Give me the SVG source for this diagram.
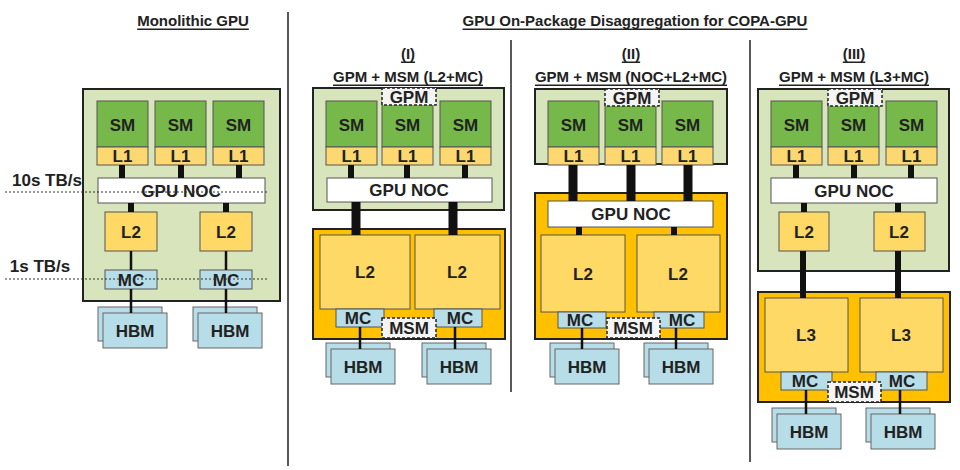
<svg xmlns="http://www.w3.org/2000/svg" width="960" height="470" viewBox="0 0 960 470">
<style>
text{font-family:"Liberation Sans",Arial,sans-serif;font-weight:bold;fill:#222;text-anchor:middle;dominant-baseline:central}
.t{font-size:17px}
.s{font-size:15px}
.h{font-size:15px;text-decoration:underline}
.gpm{fill:#d8e4bc;stroke:#222;stroke-width:2}
.msm{fill:#ffc000;stroke:#222;stroke-width:2}
.sm{fill:#76b94a;stroke:#555;stroke-width:1}
.l1{fill:#fdd870;stroke:#555;stroke-width:1}
.l2{fill:#ffd966;stroke:#555;stroke-width:1}
.noc{fill:#fff;stroke:#555;stroke-width:1}
.mc{fill:#b7dde8;stroke:#555;stroke-width:1}
.lab{fill:#f4f4f4;stroke:#222;stroke-width:1.5;stroke-dasharray:3 2}
.thin{stroke:#111;stroke-width:2.5}
.mid{stroke:#111;stroke-width:6}
.thick{stroke:#111;stroke-width:9}
.dot{stroke:#333;stroke-width:1;stroke-dasharray:2 2}
.div{stroke:#222;stroke-width:1.5}
</style>
<defs>
<g id="hbm"><rect x="0" y="0" width="64" height="34" fill="#b7dde8" stroke="#666"/><rect x="5" y="6" width="64" height="35" fill="#b7dde8" stroke="#666"/><text x="37" y="24" class="t">HBM</text></g>
<g id="sm3"><rect class="sm" x="0" y="0" width="51" height="46"/><rect class="l1" x="0" y="46" width="51" height="18"/><text class="t" x="25.5" y="24">SM</text><text class="t" x="25.5" y="55">L1</text></g>
</defs>
<rect width="960" height="470" fill="#fff"/>
<text class="h" x="193" y="20">Monolithic GPU</text>
<text class="h" x="635" y="20">GPU On-Package Disaggregation for COPA-GPU</text>
<line class="div" x1="288" y1="12" x2="288" y2="466"/>
<line class="div" x1="511" y1="40" x2="511" y2="392"/>
<line class="div" x1="750" y1="40" x2="750" y2="462"/>

<g id="monolithic">
<rect class="gpm" x="83" y="89" width="197" height="212"/>
<use href="#sm3" x="97" y="101"/><use href="#sm3" x="155" y="101"/><use href="#sm3" x="213" y="101"/>
<rect class="noc" x="98" y="178" width="167" height="25"/><text class="t" x="181" y="191">GPU NOC</text>
<rect class="l2" x="105" y="212" width="52" height="39"/><text class="t" x="131" y="232">L2</text>
<rect class="l2" x="200" y="212" width="52" height="39"/><text class="t" x="226" y="232">L2</text>
<rect class="mc" x="105" y="270" width="52" height="19"/><text class="t" x="131" y="280">MC</text>
<rect class="mc" x="200" y="270" width="52" height="19"/><text class="t" x="226" y="280">MC</text>
<use href="#hbm" x="98" y="307"/><use href="#hbm" x="193" y="307"/>
<text class="t" x="47" y="180">10s TB/s</text><line class="dot" x1="5" y1="192" x2="268" y2="192"/>
<text class="t" x="40" y="266">1s TB/s</text><line class="dot" x1="5" y1="279" x2="268" y2="279"/>
</g>

<g id="panel1">
<text class="s" x="408" y="53" style="text-decoration:underline">(I)</text>
<text class="s" x="408" y="76" style="text-decoration:underline">GPM + MSM (L2+MC)</text>
<rect class="gpm" x="313" y="88" width="191" height="122"/>
<use href="#sm3" x="326" y="101"/><use href="#sm3" x="382" y="101"/><use href="#sm3" x="440" y="101"/>
<rect class="lab" x="382" y="88" width="54" height="17"/><text class="t" x="409" y="97">GPM</text>
<rect class="noc" x="327" y="178" width="165" height="24"/><text class="t" x="409" y="190">GPU NOC</text>
<rect class="msm" x="313" y="229" width="192" height="110"/>
<rect class="l2" x="320" y="235" width="90" height="74"/><text class="t" x="365" y="272">L2</text>
<rect class="l2" x="415" y="235" width="85" height="74"/><text class="t" x="457" y="272">L2</text>
<rect class="mc" x="336" y="309" width="48" height="18"/><text class="t" x="358" y="318">MC</text>
<rect class="mc" x="434" y="309" width="48" height="18"/><text class="t" x="460" y="318">MC</text>
<rect class="lab" x="382" y="318" width="54" height="20"/><text class="t" x="409" y="328">MSM</text>
<use href="#hbm" x="326" y="343"/><use href="#hbm" x="422" y="343"/>
</g>

<g id="panel2">
<text class="s" x="631" y="53" style="text-decoration:underline">(II)</text>
<text class="s" x="631" y="76" style="text-decoration:underline">GPM + MSM (NOC+L2+MC)</text>
<rect class="gpm" x="535" y="89" width="192" height="75"/>
<use href="#sm3" x="548" y="101"/><use href="#sm3" x="605" y="101"/><use href="#sm3" x="662" y="101"/>
<rect class="lab" x="605" y="89" width="54" height="17"/><text class="t" x="632" y="98">GPM</text>
<rect class="msm" x="535" y="193" width="192" height="146"/>
<rect class="noc" x="548" y="201" width="165" height="26"/><text class="t" x="631" y="214">GPU NOC</text>
<rect class="l2" x="541" y="235" width="84" height="77"/><text class="t" x="583" y="274">L2</text>
<rect class="l2" x="637" y="235" width="83" height="77"/><text class="t" x="678" y="274">L2</text>
<rect class="mc" x="558" y="312" width="48" height="16"/><text class="t" x="580" y="320">MC</text>
<rect class="mc" x="654" y="312" width="50" height="16"/><text class="t" x="682" y="320">MC</text>
<rect class="lab" x="607" y="318" width="53" height="20"/><text class="t" x="633" y="328">MSM</text>
<use href="#hbm" x="550" y="343"/><use href="#hbm" x="644" y="343"/>
</g>

<g id="panel3">
<text class="s" x="854" y="53" style="text-decoration:underline">(III)</text>
<text class="s" x="854" y="76" style="text-decoration:underline">GPM + MSM (L3+MC)</text>
<rect class="gpm" x="758" y="89" width="191" height="182"/>
<use href="#sm3" x="771" y="101"/><use href="#sm3" x="828" y="101"/><use href="#sm3" x="886" y="101"/>
<rect class="lab" x="828" y="89" width="54" height="17"/><text class="t" x="855" y="98">GPM</text>
<rect class="noc" x="771" y="178" width="166" height="25"/><text class="t" x="854" y="191">GPU NOC</text>
<rect class="l2" x="779" y="212" width="50" height="39"/><text class="t" x="804" y="232">L2</text>
<rect class="l2" x="874" y="212" width="51" height="39"/><text class="t" x="899" y="232">L2</text>
<rect class="msm" x="758" y="292" width="192" height="110"/>
<rect class="l2" x="765" y="298" width="83" height="74"/><text class="t" x="806" y="335">L3</text>
<rect class="l2" x="860" y="298" width="83" height="74"/><text class="t" x="901" y="335">L3</text>
<rect class="mc" x="781" y="372" width="51" height="18"/><text class="t" x="805" y="381">MC</text>
<rect class="mc" x="876" y="372" width="51" height="18"/><text class="t" x="902" y="381">MC</text>
<rect class="lab" x="828" y="382" width="53" height="20"/><text class="t" x="854" y="392">MSM</text>
<use href="#hbm" x="772" y="408"/><use href="#hbm" x="866" y="408"/>
</g>

<g id="connectors">
<line class="mid" x1="122" y1="165" x2="122" y2="178"/><line class="mid" x1="181" y1="165" x2="181" y2="178"/><line class="mid" x1="239" y1="165" x2="239" y2="178"/>
<line class="mid" x1="131" y1="203" x2="131" y2="212"/><line class="mid" x1="226" y1="203" x2="226" y2="212"/>
<line class="thin" x1="131" y1="251" x2="131" y2="270"/><line class="thin" x1="226" y1="251" x2="226" y2="270"/>
<line class="thin" x1="131" y1="289" x2="131" y2="313"/><line class="thin" x1="226" y1="289" x2="226" y2="313"/>
<line class="mid" x1="351" y1="165" x2="351" y2="178"/><line class="mid" x1="407" y1="165" x2="407" y2="178"/><line class="mid" x1="465" y1="165" x2="465" y2="178"/>
<line class="thick" x1="356" y1="202" x2="356" y2="235"/><line class="thick" x1="453" y1="202" x2="453" y2="235"/>
<line class="thin" x1="360" y1="327" x2="360" y2="349"/><line class="thin" x1="455" y1="327" x2="455" y2="349"/>
<line class="thick" x1="573" y1="165" x2="573" y2="201"/><line class="thick" x1="631" y1="165" x2="631" y2="201"/><line class="thick" x1="688" y1="165" x2="688" y2="201"/>
<line class="mid" x1="579" y1="227" x2="579" y2="235"/><line class="mid" x1="674" y1="227" x2="674" y2="235"/>
<line class="thin" x1="582" y1="328" x2="582" y2="349"/><line class="thin" x1="676" y1="328" x2="676" y2="349"/>
<line class="mid" x1="796" y1="165" x2="796" y2="178"/><line class="mid" x1="854" y1="165" x2="854" y2="178"/><line class="mid" x1="911" y1="165" x2="911" y2="178"/>
<line class="mid" x1="804" y1="203" x2="804" y2="212"/><line class="mid" x1="898" y1="203" x2="898" y2="212"/>
<line class="mid" x1="803" y1="251" x2="803" y2="298"/><line class="mid" x1="898" y1="251" x2="898" y2="298"/>
<line class="thin" x1="806" y1="390" x2="806" y2="414"/><line class="thin" x1="900" y1="390" x2="900" y2="414"/>
</g>
</svg>
